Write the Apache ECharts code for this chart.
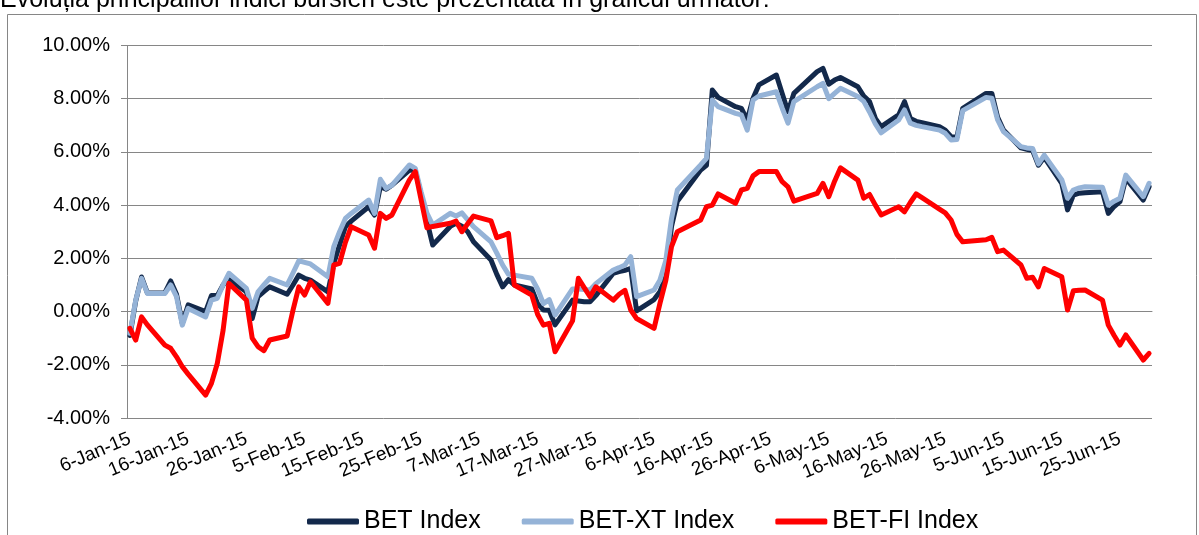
<!DOCTYPE html>
<html>
<head>
<meta charset="utf-8">
<script src="https://cdn.jsdelivr.net/npm/echarts@6/dist/echarts.min.js"></script>
<style>
  html, body { margin: 0; padding: 0; background: #fff; }
  #chart { width: 1199px; height: 535px; }
</style>
</head>
<body>
<div id="chart"></div>
<script>
// trading days shown in the chart
const tradingDays = [
  '6-Jan-15','7-Jan-15','8-Jan-15','9-Jan-15','12-Jan-15','13-Jan-15','14-Jan-15','15-Jan-15','16-Jan-15',
  '19-Jan-15','20-Jan-15','21-Jan-15','22-Jan-15','23-Jan-15','26-Jan-15','27-Jan-15','28-Jan-15','29-Jan-15','30-Jan-15',
  '2-Feb-15','3-Feb-15','4-Feb-15','5-Feb-15','6-Feb-15','9-Feb-15','10-Feb-15','11-Feb-15','12-Feb-15','13-Feb-15',
  '16-Feb-15','17-Feb-15','18-Feb-15','19-Feb-15','20-Feb-15','23-Feb-15','24-Feb-15','25-Feb-15','26-Feb-15','27-Feb-15',
  '2-Mar-15','3-Mar-15','4-Mar-15','5-Mar-15','6-Mar-15','9-Mar-15','10-Mar-15','11-Mar-15','12-Mar-15','13-Mar-15',
  '16-Mar-15','17-Mar-15','18-Mar-15','19-Mar-15','20-Mar-15','23-Mar-15','24-Mar-15','25-Mar-15','26-Mar-15','27-Mar-15',
  '30-Mar-15','31-Mar-15',
  '1-Apr-15','2-Apr-15','3-Apr-15','6-Apr-15','7-Apr-15','8-Apr-15','9-Apr-15','10-Apr-15','14-Apr-15','15-Apr-15',
  '16-Apr-15','17-Apr-15','20-Apr-15','21-Apr-15','22-Apr-15','23-Apr-15','24-Apr-15','27-Apr-15','28-Apr-15','29-Apr-15','30-Apr-15',
  '4-May-15','5-May-15','6-May-15','7-May-15','8-May-15','11-May-15','12-May-15','13-May-15','14-May-15','15-May-15',
  '18-May-15','19-May-15','20-May-15','21-May-15','22-May-15','25-May-15','26-May-15','27-May-15','28-May-15','29-May-15',
  '2-Jun-15','3-Jun-15','4-Jun-15','5-Jun-15','8-Jun-15','9-Jun-15','10-Jun-15','11-Jun-15','12-Jun-15',
  '15-Jun-15','16-Jun-15','17-Jun-15','18-Jun-15','19-Jun-15','22-Jun-15','23-Jun-15','24-Jun-15','25-Jun-15','26-Jun-15',
  '29-Jun-15','30-Jun-15'
];

// % change since start of year
const bet = [
  -0.9, 0.4, 1.3, 0.7, 0.7, 1.15, 0.65, -0.45, 0.25, 0.0, 0.6, 0.6, 1.0, 1.2, 0.75, -0.26, 0.56, 0.75, 0.93,
  0.65, 1.0, 1.37, 1.25, 1.18, 0.74, 1.81, 2.5, 3.19, 3.4, 3.94, 3.63, 4.69, 4.6, 4.75, 5.32, 5.3, 4.4, 3.4, 2.5,
  3.2, 3.32, 3.21, 3.0, 2.62, 1.94, 1.4, 0.93, 1.2, 1.0, 0.85, 0.3, 0.06, 0.05, -0.5, 0.43, 0.4, 0.37, 0.37, 0.6, 1.44, 1.5,
  1.55, 1.62, 0.03, 0.45, 0.75, 1.3, 3.2, 4.15, 5.32, 5.5, 8.33, 8.05, 7.7, 7.64, 7.2, 8.02, 8.52, 8.89, 8.2, 7.51, 8.2,
  9.02, 9.14, 8.55, 8.7, 8.8, 8.45, 8.1, 7.89, 7.26, 6.95, 7.39, 7.89, 7.26, 7.15, 7.1, 6.95, 6.82, 6.57, 6.55, 7.64,
  8.2, 8.2, 7.3, 6.82, 6.15, 6.1, 6.05, 5.5, 5.8, 4.82, 3.82, 4.38, 4.45, 4.47, 4.5, 3.69, 3.95, 4.13, 5.0, 4.19, 4.69
];
const betXt = [
  -0.82, 0.43, 1.25, 0.68, 0.68, 1.0, 0.56, -0.51, 0.12, -0.2, 0.43, 0.5, 1.0, 1.44, 0.87, 0.12, 0.74, 1.0, 1.25,
  1.0, 1.45, 1.91, 1.85, 1.79, 1.31, 2.44, 3.0, 3.5, 3.69, 4.19, 3.69, 4.97, 4.63, 4.75, 5.51, 5.38, 4.5, 3.7, 3.25,
  3.69, 3.59, 3.71, 3.45, 3.19, 2.62, 2.2, 1.75, 1.4, 1.37, 1.25, 0.85, 0.3, 0.45, -0.13, 0.85, 0.85, 0.83, 0.81, 1.05, 1.56, 1.65,
  1.75, 2.06, 0.56, 0.81, 1.18, 1.9, 3.5, 4.57, 5.51, 5.76, 7.95, 7.7, 7.45, 7.39, 6.82, 7.95, 8.1, 8.26, 7.65, 7.08, 7.89,
  8.45, 8.58, 8.0, 8.2, 8.39, 8.08, 7.9, 7.5, 7.05, 6.72, 7.2, 7.58, 7.08, 7.0, 6.95, 6.82, 6.7, 6.45, 6.47, 7.55,
  8.05, 8.02, 7.2, 6.76, 6.2, 6.15, 6.13, 5.55, 5.88, 4.96, 4.26, 4.57, 4.65, 4.69, 4.67, 4.0, 4.15, 4.26, 5.13, 4.32, 4.82
];
const betFi = [
  -0.63, -1.07, -0.2, -0.5, -1.26, -1.38, -1.7, -2.07, -2.35, -3.14, -2.7, -1.95, -0.7, 1.06, 0.43, -1.0, -1.32, -1.47, -1.07,
  -0.92, 0.05, 0.93, 0.62, 1.12, 0.31, 1.75, 1.81, 2.6, 3.19, 2.88, 2.38, 3.69, 3.5, 3.63, 4.95, 5.26, 4.2, 3.15, 3.2,
  3.32, 3.4, 3.0, 3.3, 3.59, 3.41, 2.78, 2.85, 2.94, 1.0, 0.62, -0.1, -0.51, -0.44, -1.51, -0.35, 1.25, 0.9, 0.56, 0.93, 0.43, 0.65,
  0.8, 0.06, -0.26, -0.63, 0.3, 1.15, 2.44, 3.0, 3.44, 3.94, 4.0, 4.42, 4.07, 4.57, 4.63, 5.1, 5.26, 5.26, 4.88, 4.69, 4.15,
  4.44, 4.82, 4.32, 4.9, 5.4, 4.94, 4.26, 4.4, 4.0, 3.63, 3.94, 3.75, 4.1, 4.42, 4.28, 3.85, 3.71, 3.44, 2.9, 2.62,
  2.7, 2.79, 2.25, 2.31, 1.75, 1.25, 1.29, 0.93, 1.62, 1.31, 0.06, 0.78, 0.8, 0.81, 0.43, -0.51, -0.9, -1.26, -0.88, -1.82, -1.57
];

const seriesNames = ['BET Index', 'BET-XT Index', 'BET-FI Index'];
const yTicks = [-4, -2, 0, 2, 4, 6, 8, 10];

// calendar axis: every day from 6-Jan-15 to 30-Jun-15, labelled every 10 days
const months = ['Jan','Feb','Mar','Apr','May','Jun','Jul','Aug','Sep','Oct','Nov','Dec'];
const days = [];
for (let t = Date.UTC(2015, 0, 6); t <= Date.UTC(2015, 5, 30); t += 86400000) {
  const d = new Date(t);
  days.push(d.getUTCDate() + '-' + months[d.getUTCMonth()] + '-15');
}
const every10 = (i) => i % 10 === 0;

function toPoints(vals) {
  return tradingDays.map((d, i) => [days.indexOf(d), vals[i]]);
}

const font = '"Liberation Sans", Arial, sans-serif';
const gray = '#868686';

const chart = echarts.init(document.getElementById('chart'));

function lineSeries(name, vals, color) {
  return {
    name: name,
    type: 'line',
    data: toPoints(vals),
    showSymbol: false,
    symbol: 'none',
    xAxisIndex: 0,
    lineStyle: { color: color, width: 5, join: 'round', cap: 'round' },
    itemStyle: { color: color }
  };
}

chart.setOption({
  animation: false,
  grid: { left: 127, right: 47, top: 45.5, bottom: 117 },
  xAxis: [{
    type: 'category',
    data: days,
    boundaryGap: true,
    axisLine: { onZero: true, lineStyle: { color: gray, width: 1 } },
    axisTick: { interval: every10, length: 6, lineStyle: { color: gray } },
    axisLabel: { show: false },
    splitLine: { show: false }
  }, {
    type: 'category',
    data: days,
    boundaryGap: true,
    position: 'bottom',
    axisLine: { show: false, onZero: false },
    axisTick: { show: false },
    axisLabel: {
      interval: every10,
      rotate: 23,
      margin: 20,
      fontSize: 19,
      fontFamily: font,
      color: '#000'
    },
    splitLine: { show: false }
  }],
  yAxis: {
    type: 'value',
    min: yTicks[0],
    max: yTicks[yTicks.length - 1],
    interval: 2,
    axisLine: { show: true, lineStyle: { color: gray, width: 1 } },
    axisTick: { show: true, length: 6, lineStyle: { color: gray } },
    axisLabel: {
      margin: 17,
      fontSize: 20,
      fontFamily: font,
      color: '#000',
      formatter: (v) => v.toFixed(2) + '%'
    },
    splitLine: { lineStyle: { color: gray, width: 1 } }
  },
  legend: {
    data: seriesNames,
    left: 302,
    top: 504,
    icon: 'roundRect',
    itemWidth: 52,
    itemHeight: 6,
    itemGap: 41,
    textStyle: { fontSize: 25, fontFamily: font, color: '#000' }
  },
  graphic: [{
    type: 'rect',
    shape: { x: 7.5, y: 14.5, width: 1189, height: 540 },
    style: { fill: 'none', stroke: gray, lineWidth: 1 }
  }, {
    type: 'text',
    x: 0,
    y: 12.5,
    style: {
      text: 'Evoluția principalilor indici bursieri este prezentată în graficul următor:',
      fontSize: 25,
      fontFamily: font,
      fill: '#000',
      verticalAlign: 'bottom'
    }
  }],
  series: [
    lineSeries(seriesNames[0], bet, '#13294B'),
    lineSeries(seriesNames[1], betXt, '#95B3D7'),
    lineSeries(seriesNames[2], betFi, '#FF0000')
  ]
});
</script>
</body>
</html>
